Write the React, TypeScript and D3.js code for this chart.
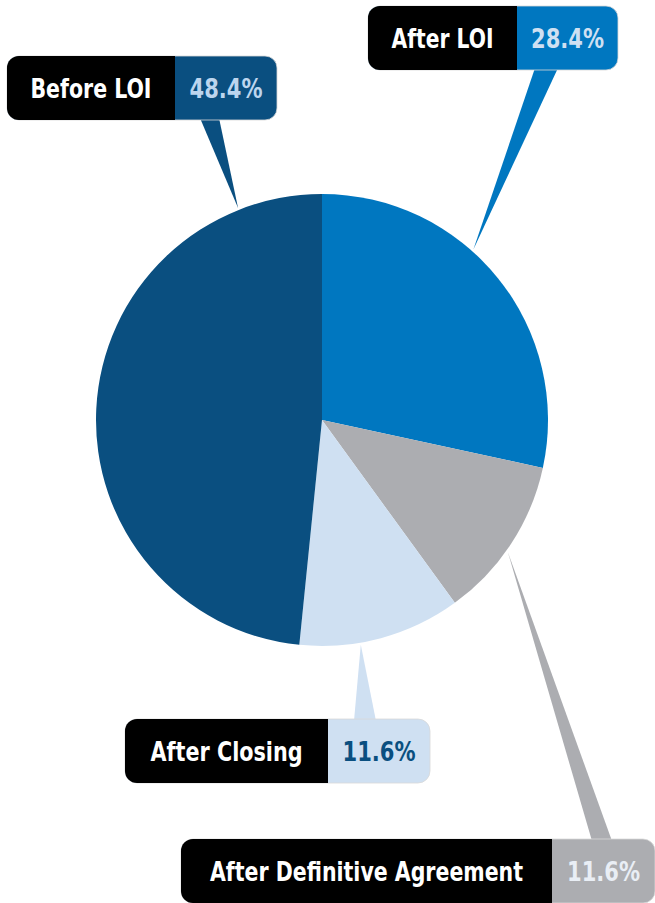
import React from "react";
import * as d3 from "d3";

const stages = ["After LOI", "After Definitive Agreement", "After Closing", "Before LOI"];
const shares = [28.4, 11.6, 11.6, 48.4];
const sliceColors = ["#0077c0", "#acadb1", "#cfe0f2", "#0a4f80"];
const valueColors = ["#cfe0f2", "#e9eef5", "#0a4f80", "#bcd5ee"];

// callout layout: box, split between label/value, pointer base and tip angle (deg)
const callouts = [
  { x: 368, y: 6, w: 250, split: 149, textW: 102, valW: 73, base: [535, 558], tipDeg: 41.6 },
  { x: 181, y: 839, w: 474, split: 371, textW: 313, valW: 73, base: [592, 612], tipDeg: 125.4 },
  { x: 125, y: 719, w: 305, split: 203, textW: 152, valW: 73, base: [354, 376], tipDeg: 170.2 },
  { x: 7, y: 56, w: 270, split: 168, textW: 121, valW: 73, base: [200, 219], tipDeg: 338.4 },
];

const W = 655;
const H = 903;
const cx = 322;
const cy = 420;
const R = 226;
const BOX_H = 64;
const RAD = 12;
const FONT = "'Liberation Sans Narrow', 'DejaVu Sans Condensed', 'Roboto Condensed', Arial, sans-serif";

export default function App() {
  const pie = d3.pie<number>().sort(null).value((d) => d);
  const arcs = pie(shares);
  const arc = d3.arc<d3.PieArcDatum<number>>().innerRadius(0).outerRadius(R);

  return (
    <svg width={W} height={H} style={{ position: "absolute", left: 0, top: 0 }}>
      <rect width={W} height={H} fill="#fff" />
      <g transform={`translate(${cx},${cy})`}>
        {arcs.map((a, i) => (
          <path key={i} d={arc(a) || ""} fill={sliceColors[i]} />
        ))}
      </g>
      {callouts.map((c, i) => {
        const t = (c.tipDeg * Math.PI) / 180;
        const tipX = cx + (R + 2) * Math.sin(t);
        const tipY = cy - (R + 2) * Math.cos(t);
        const baseY = c.y + BOX_H / 2 < cy ? c.y + BOX_H - 2 : c.y + 2;
        const pointer = d3.line()([
          [c.base[0], baseY],
          [c.base[1], baseY],
          [tipX, tipY],
        ]) + "Z";
        const midY = c.y + BOX_H / 2;
        const valCenter = c.x + c.split + (c.w - c.split) / 2;
        return (
          <g key={i}>
            <path d={pointer} fill={sliceColors[i]} />
            <rect x={c.x} y={c.y} width={c.w} height={BOX_H} rx={RAD} fill={sliceColors[i]} stroke="#d8d8d8" strokeWidth={0.8} />
            <rect x={c.x} y={c.y} width={c.split} height={BOX_H} rx={RAD} fill="#000" />
            <rect x={c.x + c.split - RAD} y={c.y} width={RAD} height={BOX_H} fill="#000" />
            <text
              x={c.x + c.split / 2}
              y={midY + 9.5}
              textAnchor="middle"
              fill="#fff"
              fontFamily={FONT}
              fontWeight="bold"
              fontSize={26}
              textLength={c.textW}
              lengthAdjust="spacingAndGlyphs"
            >
              {stages[i]}
            </text>
            <text
              x={valCenter}
              y={midY + 9.5}
              textAnchor="middle"
              fill={valueColors[i]}
              fontFamily={FONT}
              fontWeight="bold"
              fontSize={26}
              textLength={c.valW}
              lengthAdjust="spacingAndGlyphs"
            >
              {shares[i].toFixed(1) + "%"}
            </text>
          </g>
        );
      })}
    </svg>
  );
}
